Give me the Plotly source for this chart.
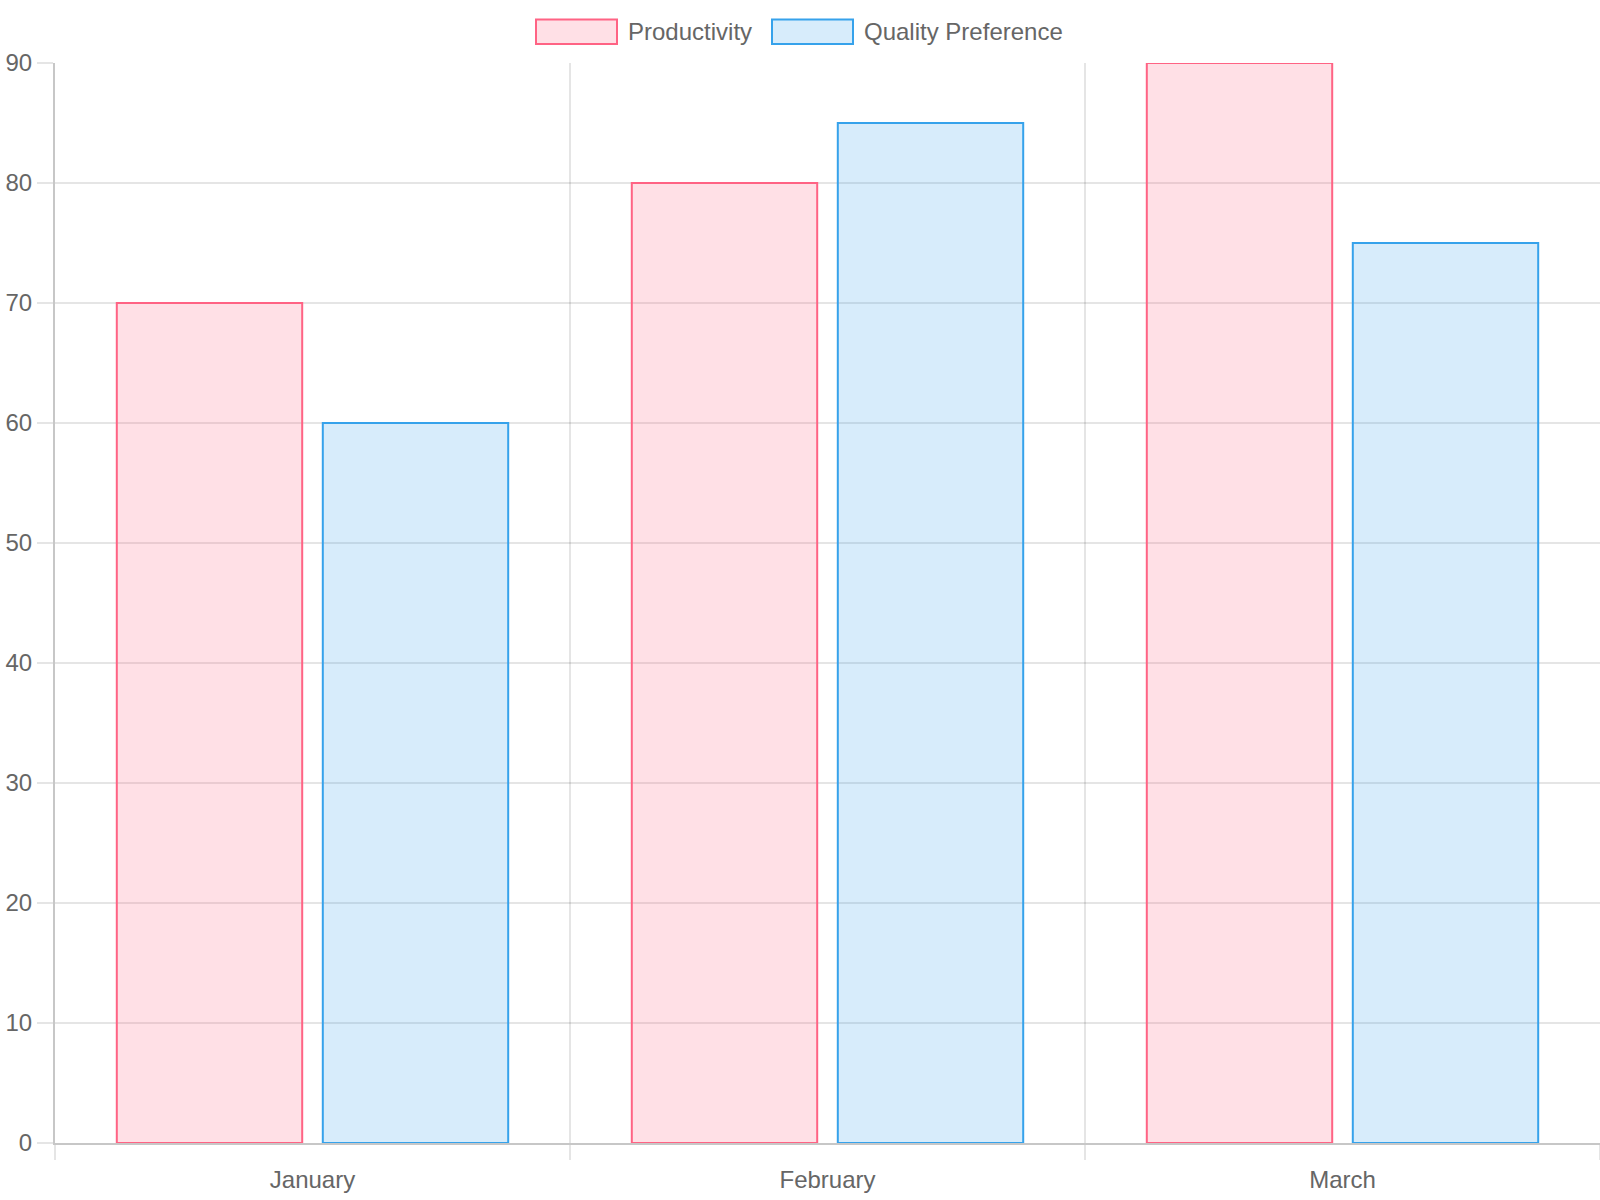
import plotly.graph_objects as go

# chart data
months = ["January", "February", "March"]
productivity = [70, 80, 90]
quality_pref = [60, 85, 75]

series_names = ["Productivity", "Quality Preference"]
line_colors = ["rgb(255,99,132)", "rgb(54,162,235)"]
fill_colors = ["rgba(255,99,132,0.2)", "rgba(54,162,235,0.2)"]

W, H = 1600, 1200
ML, MR, MT, MB = 55, 0, 63, 57
FONT = "Liberation Sans, Arial, Helvetica, sans-serif"
TXT = "#666666"
GRID = "rgba(0,0,0,0.1)"
AXIS = "rgba(0,0,0,0.22)"


def px_x(px):
    # page pixel -> paper x
    return (px - ML) / (W - ML - MR)


def px_y(py):
    # page pixel -> paper y
    return (H - MB - py) / (H - MT - MB)


fig = go.Figure()
for name, vals, lc, fc in zip(series_names, [productivity, quality_pref], line_colors, fill_colors):
    fig.add_trace(go.Bar(
        x=months, y=vals, name=name,
        marker=dict(color=fc, line=dict(color=lc, width=2)),
        hoverinfo="skip", showlegend=False,
    ))

# legend drawn by hand so the boxes look like the wide swatches of the original
shapes = []
annotations = []
legend_items = [(536, 617, 626), (772, 853, 862)]
for (bx0, bx1, tx), name, lc, fc in zip(legend_items, series_names, line_colors, fill_colors):
    shapes.append(dict(
        type="rect", xref="paper", yref="paper",
        x0=px_x(bx0), x1=px_x(bx1), y0=px_y(44), y1=px_y(19.5),
        fillcolor=fc, line=dict(color=lc, width=2),
    ))
    annotations.append(dict(
        text=name, xref="paper", yref="paper",
        x=px_x(tx), y=px_y(31.5), xanchor="left", yanchor="middle",
        showarrow=False, font=dict(family=FONT, size=24, color=TXT),
    ))

fig.update_layout(
    width=W, height=H,
    margin=dict(l=ML, r=MR, t=MT, b=MB),
    paper_bgcolor="white", plot_bgcolor="white",
    barmode="group", bargap=0.2, bargroupgap=0.1,
    font=dict(family=FONT, size=24, color=TXT),
    shapes=shapes, annotations=annotations,
)
fig.update_xaxes(
    type="category", tickson="boundaries",
    showgrid=True, gridcolor=GRID, gridwidth=2,
    ticks="outside", ticklen=15, tickwidth=2, tickcolor=GRID,
    showline=True, linecolor=AXIS, linewidth=2,
    ticklabelstandoff=14,
    tickfont=dict(size=24, color=TXT), automargin=False,
)
fig.update_yaxes(
    range=[0, 90], dtick=10,
    showgrid=True, gridcolor=GRID, gridwidth=2,
    zeroline=False,
    ticks="outside", ticklen=16, tickwidth=2, tickcolor=GRID,
    showline=True, linecolor=AXIS, linewidth=2,
    tickfont=dict(size=24, color=TXT), automargin=False,
)

# drop the page's default body margin so the figure sits at the window corner
fig.write_html("out.html", config={"displayModeBar": False},
               post_script="document.body.style.margin='0';")
